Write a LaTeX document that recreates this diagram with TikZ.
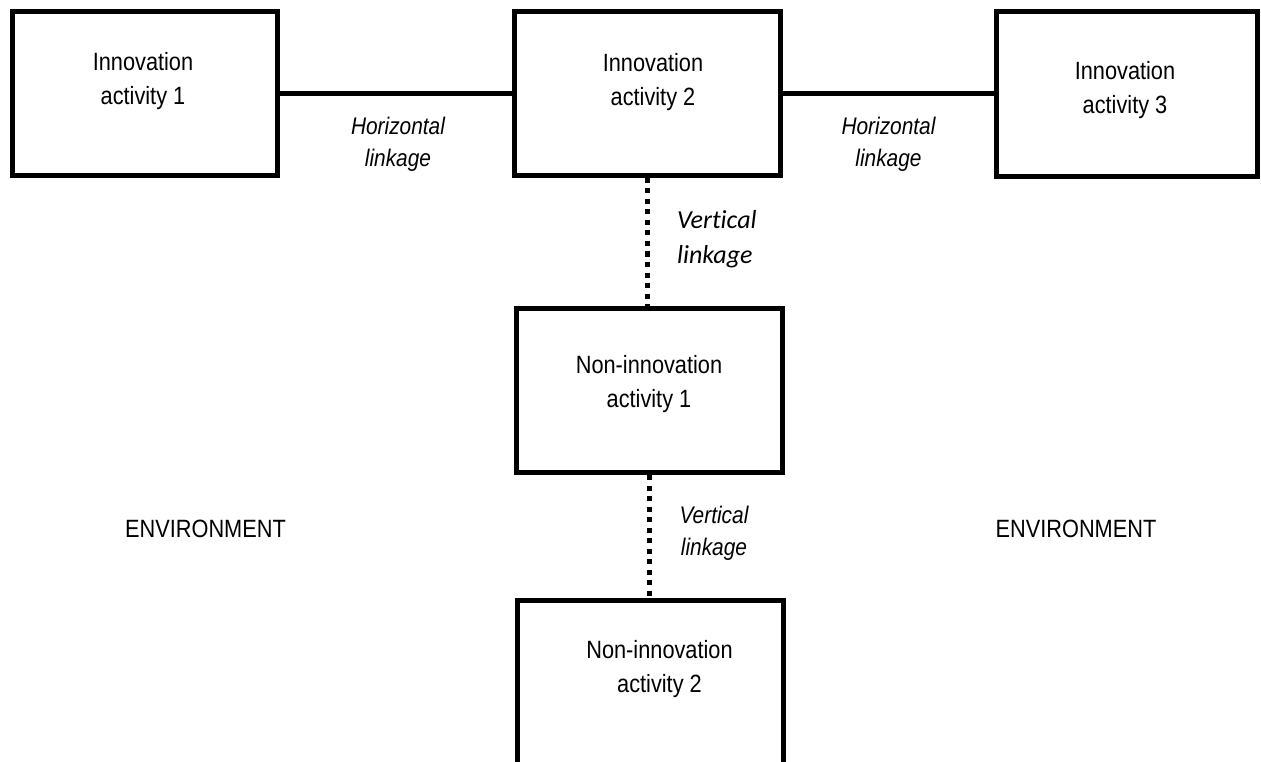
\documentclass[tikz,border=0pt]{standalone}
\usepackage{fontspec}
\setmainfont{Liberation Sans}
\newfontfamily\narrowfont{Liberation Sans}[FakeStretch=0.87]
\newfontfamily\calfont{Carlito}[Ligatures=NoCommon]
\begin{document}
\begin{tikzpicture}[x=1pt,y=-1pt,
  box/.style={draw, line width=5pt, inner sep=0pt},
  txt/.style={font=\narrowfont\fontsize{25}{34}\selectfont, align=center, inner sep=0pt, anchor=north},
  itl/.style={font=\narrowfont\itshape\fontsize{24}{32}\selectfont, align=center, inner sep=0pt, anchor=north},
  calib/.style={font=\calfont\itshape\fontsize{26}{35}\selectfont, align=left, inner sep=0pt, anchor=north west},
  link/.style={line width=5pt},
  vlink/.style={line width=4.5pt, dash pattern=on 5pt off 5.5pt}]
\clip (0,0) rectangle (1261,762);
% boxes
\node[box, minimum width=265pt, minimum height=164pt] (a1) at (145,93.5) {};
\node[box, minimum width=266pt, minimum height=164pt] (a2) at (647.5,93.5) {};
\node[box, minimum width=261.5pt, minimum height=165pt] (a3) at (1126.75,94) {};
\node[box, minimum width=266pt, minimum height=164.5pt] (n1) at (649.5,390.25) {};
\node[box, minimum width=265.5pt, minimum height=180pt] (n2) at (650.25,690) {};
% box texts
\node[txt] (t1) at (143,52) {Innovation\\activity 1};
\node[txt] (t2) at (653,53) {Innovation\\activity 2};
\node[txt] (t3) at (1125,61) {Innovation\\activity 3};
\node[txt] (t4) at (649,355) {Non-innovation\\activity 1};
\node[txt] (t5) at (659.5,640) {Non-innovation\\activity 2};
% link labels
\node[itl] (h1) at (398,117) {Horizontal\\linkage};
\node[itl] (h2) at (888.5,117) {Horizontal\\linkage};
\node[calib] (v1) at (677,210) {Vertical\\linkage};
\node[itl] (v2) at (714,506) {Vertical\\linkage};
% environment
\node[txt] (e1) at (205.5,520) {ENVIRONMENT};
\node[txt] (e2) at (1076,520) {ENVIRONMENT};
% connectors
\draw[link] (a1) -- (a2);
\draw[link] (a2.east) -- (a2.east -| a3.west);
\draw[vlink] (a2.south) -- (a2.south |- n1.north);
\draw[vlink] (n1.south) -- (n1.south |- n2.north);
\end{tikzpicture}
\end{document}
